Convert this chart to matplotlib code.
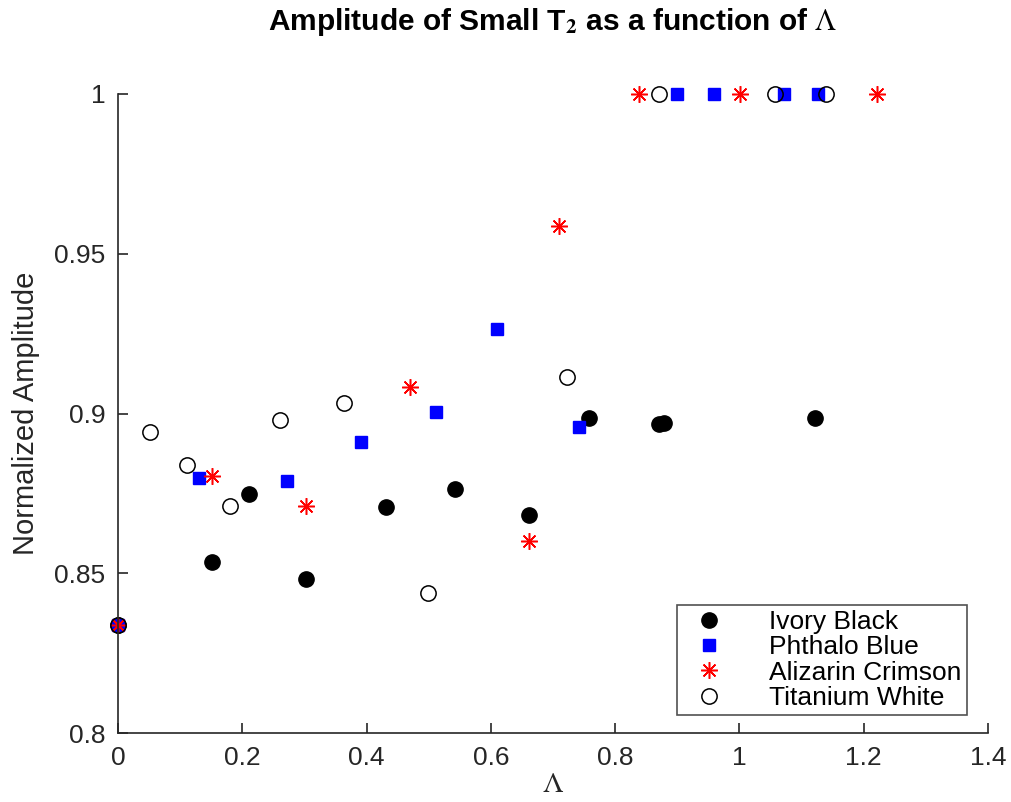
import matplotlib
matplotlib.use('Agg')
from matplotlib import pyplot as plt

# Lambda values and normalized amplitudes
black_x = [0.0, 0.151, 0.211, 0.303, 0.431, 0.542, 0.662, 0.758, 0.871, 0.879, 1.121]
black_y = [0.8338, 0.8536, 0.8747, 0.8481, 0.8708, 0.8765, 0.8681, 0.8985, 0.8966, 0.8969, 0.8985]

blue_x = [0.0, 0.131, 0.272, 0.391, 0.511, 0.610, 0.742, 0.899, 0.959, 1.071, 1.127]
blue_y = [0.8338, 0.8797, 0.8788, 0.8910, 0.9004, 0.9264, 0.8959, 1.0, 1.0, 1.0, 1.0]

red_x = [0.0, 0.151, 0.303, 0.470, 0.662, 0.710, 0.839, 1.001, 1.221]
red_y = [0.8338, 0.8805, 0.8711, 0.9084, 0.8600, 0.9588, 1.0, 1.0, 1.0]

white_x = [0.0, 0.0515, 0.1115, 0.180, 0.260, 0.363, 0.499, 0.722, 0.871, 1.058, 1.139]
white_y = [0.8338, 0.8943, 0.8838, 0.8710, 0.8980, 0.9032, 0.8437, 0.9115, 1.0, 1.0, 1.0]

names = ['Ivory Black', 'Phthalo Blue', 'Alizarin Crimson', 'Titanium White']

plt.rcParams['font.family'] = ['Liberation Sans', 'DejaVu Sans']
plt.rcParams['mathtext.fontset'] = 'stix'

fig = plt.figure(figsize=(10.11, 8.02), dpi=100)
ax = fig.add_axes([0.1167, 0.086, 0.8605, 0.7968])

ax.plot(black_x, black_y, 'o', color='k', markersize=11, linestyle='none',
        label=names[0], clip_on=False)
ax.plot(blue_x, blue_y, 's', color='b', markersize=9, linestyle='none',
        label=names[1], clip_on=False)
ax.plot(red_x, red_y, marker=(8, 2, 0), color='r', markersize=12, markeredgewidth=1.1,
        linestyle='none', label=names[2], clip_on=False)
ax.plot(white_x, white_y, 'o', markerfacecolor='none', markeredgecolor='k', markersize=11,
        markeredgewidth=1.1, linestyle='none', label=names[3], clip_on=False)

ax.set_xlim(0, 1.4)
ax.set_ylim(0.8, 1.0)
ax.set_xticks([0, 0.2, 0.4, 0.6, 0.8, 1.0, 1.2, 1.4])
ax.set_xticklabels(['0', '0.2', '0.4', '0.6', '0.8', '1', '1.2', '1.4'])
ax.set_yticks([0.8, 0.85, 0.9, 0.95, 1.0])
ax.set_yticklabels(['0.8', '0.85', '0.9', '0.95', '1'])

for s in ['top', 'right']:
    ax.spines[s].set_visible(False)
for s in ['left', 'bottom']:
    ax.spines[s].set_color('#262626')
    ax.spines[s].set_linewidth(1.2)
ax.tick_params(direction='in', length=7, width=1.2, colors='#262626', labelsize=19, pad=9)

ax.set_xlabel(r'$\Lambda$', fontsize=21, color='#262626', labelpad=0)
ax.set_ylabel('Normalized Amplitude', fontsize=21, color='#262626', labelpad=10)
ax.set_title(r'Amplitude of Small T$_\mathbf{2}$ as a function of $\Lambda$',
             fontsize=21.5, fontweight='bold', pad=46)

leg = ax.legend(loc='lower right', bbox_to_anchor=(0.976, 0.028), fontsize=19,
                frameon=True, fancybox=False, edgecolor='#262626', handletextpad=1.3,
                labelspacing=0.05, borderpad=0.2, handlelength=2.0, borderaxespad=0)
leg.get_frame().set_linewidth(1.2)

plt.savefig('out.png', dpi=100)
